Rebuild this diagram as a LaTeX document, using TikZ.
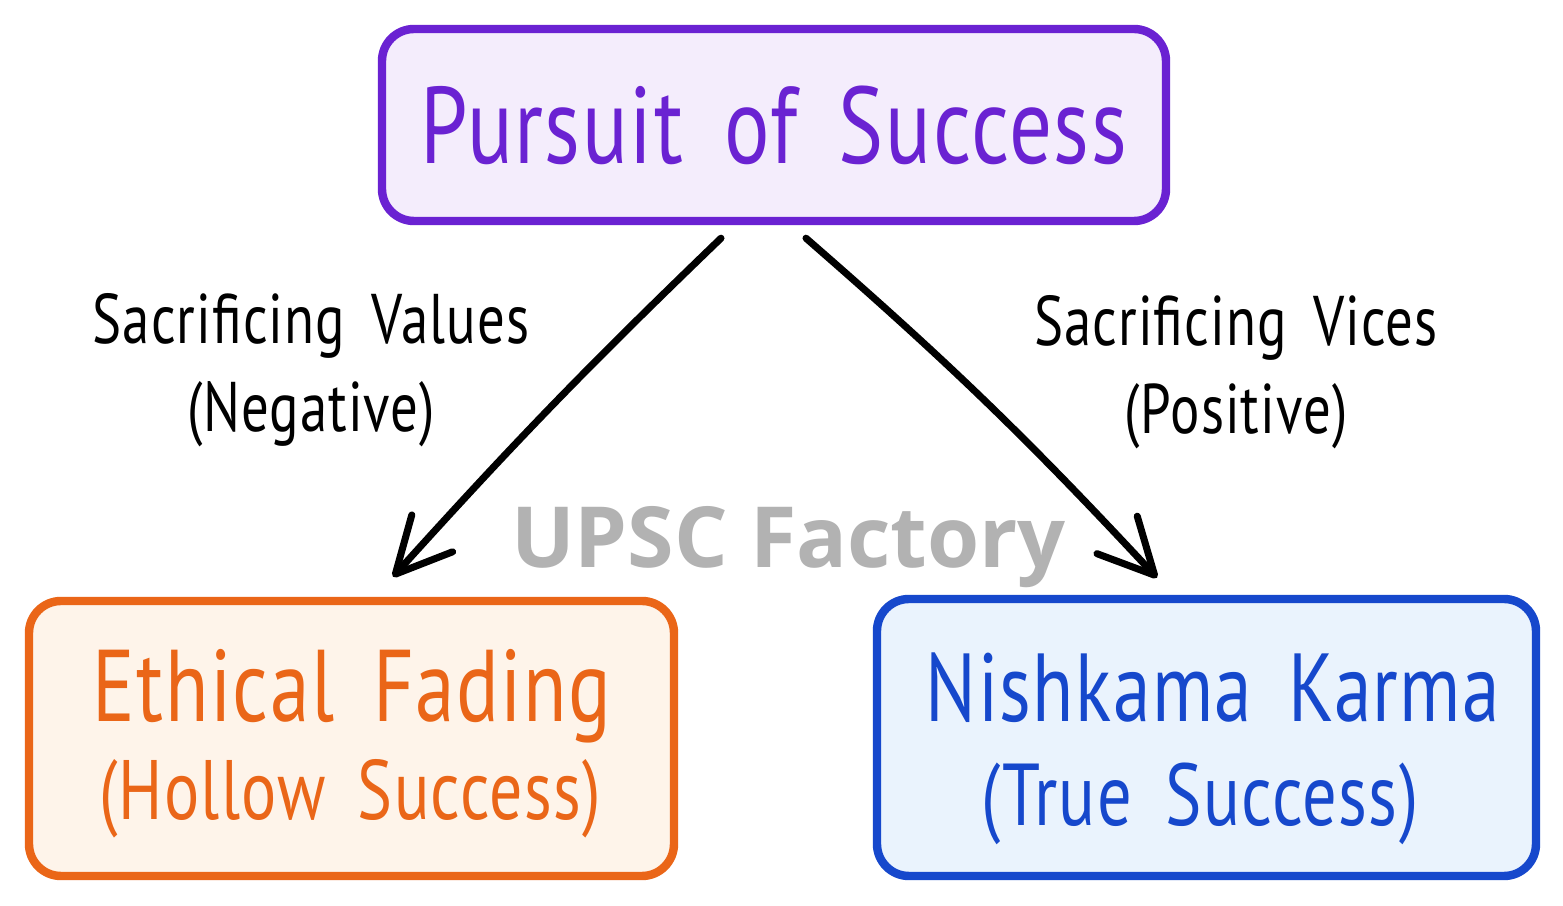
\documentclass[tikz,border=0pt]{standalone}
\usepackage{fontspec}
\setmainfont{PT Sans}
\newfontfamily\hand[FakeStretch=0.78,WordSpace=1.7,LetterSpace=1.5]{PT Sans}
\newfontfamily\stamp{Open Sans}
\definecolor{pursuitline}{RGB}{106,34,210}
\definecolor{pursuitfill}{RGB}{244,237,252}
\definecolor{fadingline}{RGB}{234,102,24}
\definecolor{fadingfill}{RGB}{254,244,234}
\definecolor{karmaline}{RGB}{22,72,204}
\definecolor{karmafill}{RGB}{234,243,253}
\definecolor{stampgray}{RGB}{178,178,178}
\usetikzlibrary{arrows.meta,positioning}

\begin{document}
\begin{tikzpicture}[>={Straight Barb[length=5.5mm,width=5.5mm,round]},
    box/.style={draw, line width=2.4pt, rounded corners=0.32cm},
    tag/.style={align=center, font=\hand\fontsize{20}{25}\selectfont}]
    \useasboundingbox[fill=white] (0,0) rectangle (15.63,9.06);
    % boxes
    \node[box, draw=pursuitline, fill=pursuitfill, text=pursuitline, minimum width=7.84cm, minimum height=1.92cm, font=\hand\fontsize{31}{31}\selectfont] (pursuit) at (7.74,7.81) {Pursuit of Success};
    \node[box, draw=fadingline, fill=fadingfill, minimum width=6.45cm, minimum height=2.75cm] (fading) at (3.515,1.675) {};
    \node[box, draw=karmaline, fill=karmafill, minimum width=6.59cm, minimum height=2.77cm] (karma) at (12.065,1.685) {};
    \node[anchor=base, text=fadingline, font=\hand\fontsize{29}{29}\selectfont] (fadingA) at (3.52,1.84) {Ethical Fading};
    \node[anchor=base, text=fadingline, font=\hand\fontsize{24}{24}\selectfont] (fadingB) at (3.50,0.86) {(Hollow Success)};
    \node[anchor=base, text=karmaline, font=\hand\fontsize{27.5}{27.5}\selectfont] (karmaA) at (12.13,1.84) {Nishkama Karma};
    \node[anchor=base, text=karmaline, font=\hand\fontsize{25}{25}\selectfont] (karmaB) at (12.00,0.80) {(True Success)};
    % arrows
    \draw[->, line width=2pt, line cap=round] ([xshift=-0.53cm,yshift=-0.13cm]pursuit.south) to[bend right=2] ([xshift=0.415cm,yshift=0.2cm]fading.north);
    \draw[->, line width=2pt, line cap=round] ([xshift=0.32cm,yshift=-0.13cm]pursuit.south) to[bend left=3] ([xshift=-0.495cm,yshift=0.17cm]karma.north);
    \node[tag] (values) at (3.11,5.36) {Sacrificing Values\\(Negative)};
    \node[tag] (vices) at (12.36,5.34) {Sacrificing Vices\\(Positive)};
    % watermark
    \node[anchor=base, text=stampgray, font=\stamp\bfseries\fontsize{24}{24}\selectfont] (mark) at (7.885,3.38) {UPSC Factory};
\end{tikzpicture}
\end{document}
